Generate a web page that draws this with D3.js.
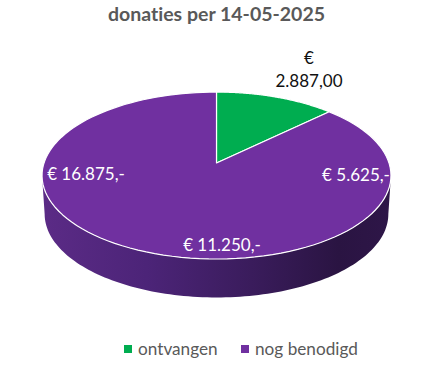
<!DOCTYPE html>
<html>
<head>
<meta charset="utf-8">
<script src="https://cdn.jsdelivr.net/npm/d3@7"></script>
<style>
  html, body { margin: 0; padding: 0; background: #fff; }
  text { font-family: Lato, Carlito, sans-serif; font-variant-ligatures: none; }
</style>
</head>
<body>
<div id="chart"></div>
<script>
const title = "donaties per 14-05-2025";
const categories = ["ontvangen", "nog benodigd"];
const values = [2887, 19613];
const colors = ["#00AD50", "#7030A0"];
// the purple slice carries three hand placed labels in the original
const purpleLabels = ["€ 5.625,-", "€ 11.250,-", "€ 16.875,-"];
const greenLabel = ["€", "2.887,00"];

const width = 433, height = 370;
const cx = 216.5, apexY = 163;
const rx = 172.5, ry = 81.6, persp = 0.15;
const depth = 38.5;

const svg = d3.select("#chart").append("svg")
    .attr("width", width)
    .attr("height", height);

const defs = svg.append("defs");
const wallGrad = defs.append("linearGradient")
    .attr("id", "wall")
    .attr("x1", "0%").attr("x2", "100%")
    .attr("y1", "0%").attr("y2", "0%");
[["0%", "#5B2B86"], ["30%", "#4C2478"], ["60%", "#3A1C5C"], ["85%", "#2A1442"], ["100%", "#2E1648"]]
  .forEach(s => wallGrad.append("stop").attr("offset", s[0]).attr("stop-color", s[1]));

// tilted disc: circle angle (0 = top, clockwise) to screen position, with perspective
function project(a, r = 1, drop = 0) {
  const u = Math.sin(a) * r, v = Math.cos(a) * r;
  const w = 1 + persp * v;
  return [cx + rx * u / w, apexY + drop - ry * v / w];
}

const pie = d3.pie().sort(null).value(d => d);
const arcs = pie(values);
const line = d3.line();

function slicePath(d) {
  const steps = d3.range(0, 121).map(i => project(d.startAngle + (d.endAngle - d.startAngle) * i / 120));
  return line([[cx, apexY], ...steps]) + "Z";
}

// leftmost and rightmost points of the projected rim
const sideA = Math.acos(-persp);

// side wall: front rim of top disc, back along the lower rim
const front = d3.range(0, 121).map(i => sideA + (2 * Math.PI - 2 * sideA) * i / 120);
const wallPts = [
  ...front.map(a => project(a)),
  ...front.slice().reverse().map(a => {
    const p = project(a, 1, depth);
    return [cx + (p[0] - cx) * 0.985, p[1]];
  })
];
svg.append("path")
    .attr("d", line(wallPts) + "Z")
    .attr("fill", "url(#wall)");

svg.selectAll("path.slice")
  .data(arcs)
  .join("path")
    .attr("class", "slice")
    .attr("d", slicePath)
    .attr("fill", (d, i) => colors[i])
    .attr("stroke", "#fff")
    .attr("stroke-width", 1.2)
    .attr("stroke-linejoin", "round");

svg.append("text")
    .attr("x", cx)
    .attr("y", 21)
    .attr("text-anchor", "middle")
    .attr("font-size", 19.5)
    .attr("font-weight", 700)
    .attr("fill", "#595959")
    .text(title);

svg.selectAll("text.green")
  .data(greenLabel)
  .join("text")
    .attr("class", "green")
    .attr("x", 309)
    .attr("y", (d, i) => 64 + i * 23)
    .attr("text-anchor", "middle")
    .attr("font-size", 17)
    .attr("fill", "#111")
    .text(d => d);

const purpleX = [356, 222, 86];
const purpleY = [181, 251, 180];
svg.selectAll("text.purple")
  .data(purpleLabels)
  .join("text")
    .attr("class", "purple")
    .attr("x", (d, i) => purpleX[i])
    .attr("y", (d, i) => purpleY[i])
    .attr("text-anchor", "middle")
    .attr("font-size", 17)
    .attr("fill", "#fff")
    .text(d => d);

const legendX = [124, 241];
const legend = svg.selectAll("g.legend")
  .data(categories)
  .join("g")
    .attr("class", "legend")
    .attr("transform", (d, i) => `translate(${legendX[i]},345)`);
legend.append("rect")
    .attr("width", 8)
    .attr("height", 8)
    .attr("fill", (d, i) => colors[i]);
legend.append("text")
    .attr("x", 14)
    .attr("y", 10)
    .attr("font-size", 17.2)
    .attr("fill", "#595959")
    .text(d => d);
</script>
</body>
</html>
